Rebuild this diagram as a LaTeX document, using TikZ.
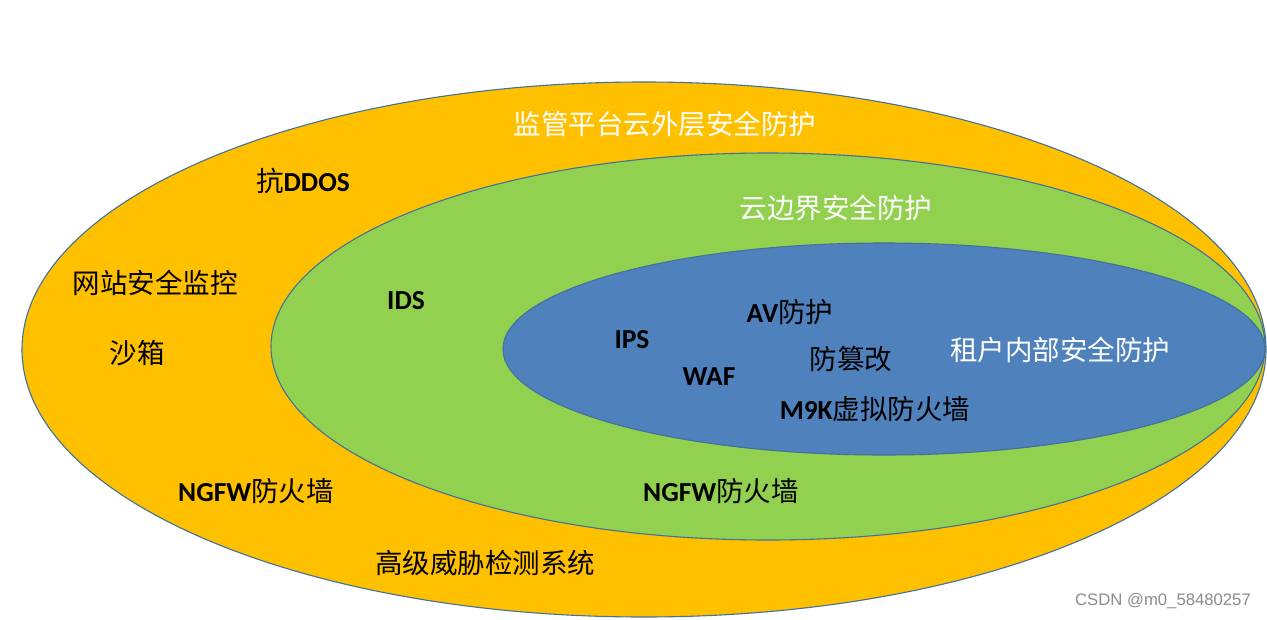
\documentclass[tikz,border=0pt]{standalone}
\usepackage{fontspec}
\setmainfont{Carlito}
\newfontfamily\cjkfam{Noto Sans CJK SC}[BoldFont=Noto Sans CJK SC]
\newcommand{\cjk}{\cjkfam\mdseries}
\newfontfamily\wmfont{Liberation Sans}
\definecolor{outerc}{HTML}{FFC000}
\definecolor{midc}{HTML}{92D050}
\definecolor{innerc}{HTML}{4F81BD}
\definecolor{edgec}{HTML}{41719C}
\begin{document}
\begin{tikzpicture}[x=1pt,y=-1pt,
  ring/.style={draw=edgec,line width=1.1pt},
  lbl/.style={font=\fontsize{27.5}{31}\selectfont\bfseries, text=black, inner sep=0pt},
  wlbl/.style={font=\fontsize{27.5}{31}\selectfont\cjk, text=white, inner sep=0pt}]
\useasboundingbox (0,0) rectangle (1267,619);
\fill[white] (0,0) rectangle (1267,619);
\fill[outerc,ring] (644,349.5) ellipse [x radius=622, y radius=267.5];
\fill[midc,ring] (768,346.5) ellipse [x radius=497, y radius=193.5];
\fill[innerc,ring] (884,349) ellipse [x radius=381, y radius=106];
\node[wlbl] (t1) at (665,124) {监管平台云外层安全防护};
\node[wlbl] (t2) at (836,208) {云边界安全防护};
\node[wlbl] (t3) at (1060,350) {租户内部安全防护};
\node[lbl] (a1) at (303,181) {{\cjk 抗}DDOS};
\node[lbl] (a2) at (155,283) {\cjk 网站安全监控};
\node[lbl] (a3) at (137,353) {\cjk 沙箱};
\node[lbl] (a4) at (256,491) {NGFW{\cjk 防火墙}};
\node[lbl] (a5) at (485,563) {\cjk 高级威胁检测系统};
\node[lbl] (b1) at (406,301) {IDS};
\node[lbl] (b2) at (721,491) {NGFW{\cjk 防火墙}};
\node[lbl] (c1) at (790,312) {AV{\cjk 防护}};
\node[lbl] (c2) at (632,340) {IPS};
\node[lbl] (c3) at (851,359) {\cjk 防篡改};
\node[lbl] (c4) at (709,377) {WAF};
\node[lbl] (c5) at (875,409) {M9K{\cjk 虚拟防火墙}};
\node[font=\fontsize{16.7}{19}\selectfont\wmfont, text=black!45, inner sep=0pt] (wm) at (1163,601) {CSDN @m0\_58480257};
\end{tikzpicture}
\end{document}
